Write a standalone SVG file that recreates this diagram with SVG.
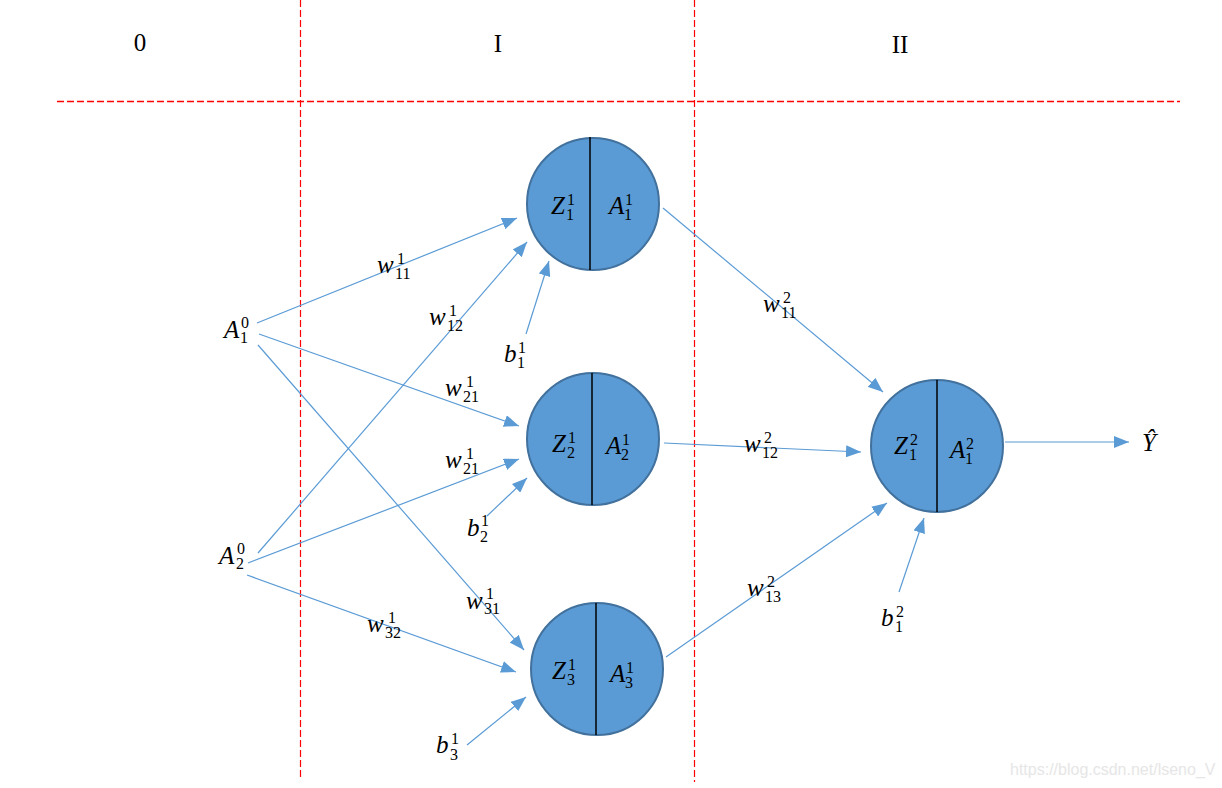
<svg xmlns="http://www.w3.org/2000/svg" width="1222" height="788" viewBox="0 0 1222 788">
<style>
.dash{stroke:#FF0000;stroke-width:1.2;stroke-dasharray:7 3;fill:none}
.hdash{stroke:#FF0000;stroke-width:1.6;stroke-dasharray:7 3;fill:none}
.node{fill:#5B9BD5;stroke:#41719C;stroke-width:2}
.div{stroke:#000;stroke-width:1.5}
.c{stroke:#5B9BD5;stroke-width:1.2;fill:none;marker-end:url(#ah)}
.m{font-family:"Liberation Serif",serif;font-style:italic;font-size:25px;fill:#000}
.s{font-family:"Liberation Serif",serif;font-size:16px;fill:#000}
.t{font-family:"Liberation Serif",serif;font-size:25px;fill:#000;text-anchor:middle}
.wm{font-family:"Liberation Sans",Arial,sans-serif;font-size:16px;fill:#E6E6E6}
</style>
<defs>
<marker id="ah" markerUnits="userSpaceOnUse" markerWidth="15" markerHeight="12" refX="15" refY="6" orient="auto">
<path d="M0,0 L15,6 L0,12 z" fill="#5B9BD5"/>
</marker>
</defs>
<rect width="1222" height="788" fill="#fff"/>
<g id="grid">
<line class="hdash" x1="57" y1="101.5" x2="1180" y2="101.5"/>
<line class="dash" x1="300.5" y1="0" x2="300.5" y2="780"/>
<line class="dash" x1="694.5" y1="0" x2="694.5" y2="782"/>
<text class="t" x="140" y="51">0</text>
<text class="t" x="498" y="52">I</text>
<text class="t" x="900" y="53">II</text>
</g>
<g id="connectors">
<line class="c" x1="257" y1="323" x2="517" y2="218"/>
<line class="c" x1="258" y1="553" x2="527" y2="242"/>
<line class="c" x1="526" y1="334" x2="549" y2="261"/>
<line class="c" x1="259" y1="334" x2="519" y2="426"/>
<line class="c" x1="248" y1="563" x2="519" y2="459"/>
<line class="c" x1="487" y1="516" x2="527" y2="478"/>
<line class="c" x1="258" y1="345" x2="524" y2="650"/>
<line class="c" x1="247" y1="575" x2="516" y2="672"/>
<line class="c" x1="467" y1="745" x2="526" y2="697"/>
<line class="c" x1="663" y1="208" x2="883" y2="392"/>
<line class="c" x1="664" y1="443" x2="861" y2="452"/>
<line class="c" x1="666" y1="657" x2="887" y2="503"/>
<line class="c" x1="899" y1="592" x2="924" y2="518"/>
<line class="c" x1="1005" y1="442" x2="1129" y2="442"/>
</g>
<g id="n11">
<circle class="node" cx="593" cy="204" r="66"/>
<line class="div" x1="590" y1="137" x2="590" y2="270"/>
<text class="m" x="551" y="214">Z</text><text class="s" x="567" y="205">1</text><text class="s" x="566" y="220">1</text>
<text class="m" x="609" y="214">A</text><text class="s" x="625" y="205">1</text><text class="s" x="624" y="220">1</text>
</g>
<g id="n21">
<circle class="node" cx="593" cy="439" r="66"/>
<line class="div" x1="592" y1="373" x2="592" y2="505"/>
<text class="m" x="552" y="452">Z</text><text class="s" x="568" y="443">1</text><text class="s" x="567" y="458">2</text>
<text class="m" x="606" y="454">A</text><text class="s" x="622" y="445">1</text><text class="s" x="621" y="460">2</text>
</g>
<g id="n31">
<circle class="node" cx="597" cy="669" r="66"/>
<line class="div" x1="596" y1="603" x2="596" y2="735"/>
<text class="m" x="552" y="679">Z</text><text class="s" x="568" y="670">1</text><text class="s" x="567" y="685">3</text>
<text class="m" x="610" y="682">A</text><text class="s" x="626" y="673">1</text><text class="s" x="625" y="688">3</text>
</g>
<g id="n12">
<circle class="node" cx="937" cy="446" r="66"/>
<line class="div" x1="937" y1="380" x2="937" y2="512"/>
<text class="m" x="894" y="454">Z</text><text class="s" x="910" y="445">2</text><text class="s" x="909" y="460">1</text>
<text class="m" x="950" y="458">A</text><text class="s" x="966" y="449">2</text><text class="s" x="965" y="464">1</text>
</g>
<g id="in1">
<text class="m" x="224" y="338">A</text><text class="s" x="241" y="328">0</text><text class="s" x="240" y="343">1</text>
</g>
<g id="in2">
<text class="m" x="219" y="564">A</text><text class="s" x="237" y="554">0</text><text class="s" x="236" y="569">2</text>
</g>
<g id="out">
<text class="m" x="1142" y="451">Ŷ</text>
</g>
<g id="labels">
<text class="m" x="377" y="273">w</text><text class="s" x="397" y="264">1</text><text class="s" x="395" y="279">11</text>
<text class="m" x="429" y="325">w</text><text class="s" x="449" y="316">1</text><text class="s" x="447" y="331">12</text>
<text class="m" x="504" y="362">b</text><text class="s" x="518" y="353">1</text><text class="s" x="517" y="368">1</text>
<text class="m" x="445" y="396">w</text><text class="s" x="466" y="387">1</text><text class="s" x="463" y="402">21</text>
<text class="m" x="445" y="468">w</text><text class="s" x="466" y="459">1</text><text class="s" x="463" y="474">21</text>
<text class="m" x="467" y="536">b</text><text class="s" x="481" y="526">1</text><text class="s" x="480" y="542">2</text>
<text class="m" x="466" y="609">w</text><text class="s" x="486" y="599">1</text><text class="s" x="484" y="614">31</text>
<text class="m" x="367" y="632">w</text><text class="s" x="388" y="623">1</text><text class="s" x="385" y="638">32</text>
<text class="m" x="436" y="753">b</text><text class="s" x="451" y="744">1</text><text class="s" x="450" y="760">3</text>
<text class="m" x="763" y="312">w</text><text class="s" x="783" y="303">2</text><text class="s" x="781" y="318">11</text>
<text class="m" x="744" y="452">w</text><text class="s" x="764" y="443">2</text><text class="s" x="762" y="458">12</text>
<text class="m" x="747" y="596">w</text><text class="s" x="767" y="587">2</text><text class="s" x="765" y="602">13</text>
<text class="m" x="881" y="626">b</text><text class="s" x="896" y="617">2</text><text class="s" x="895" y="632">1</text>
</g>
<text class="wm" x="1010" y="775">https://blog.csdn.net/lseno_V</text>
</svg>
